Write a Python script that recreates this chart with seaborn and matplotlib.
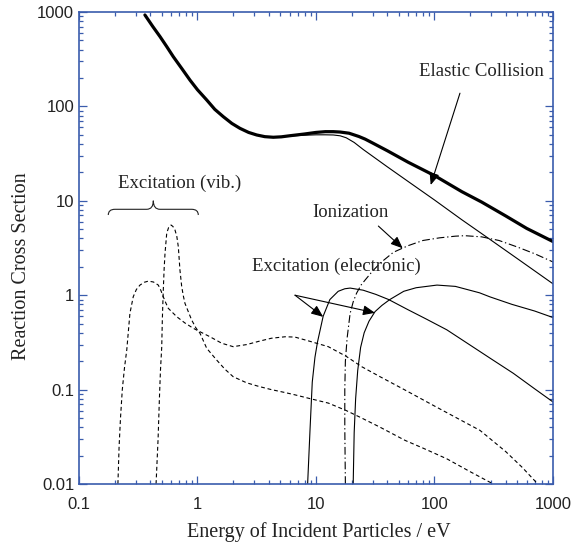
import pandas as pd
import matplotlib.pyplot as plt
from matplotlib.path import Path
from matplotlib.patches import PathPatch
import seaborn as sns

# --- data (energy in eV, cross section arb. units) ---
elastic_e = [0.36, 0.42, 0.483, 0.55, 0.625, 0.74, 0.864, 1.0, 1.196, 1.4, 1.651, 1.95,
             2.28, 2.7, 3.16, 3.7, 4.36, 5.1, 6.03, 8.0, 10, 12, 14, 16, 19, 23, 26, 30,
             40, 60, 100, 170, 250, 400, 600, 1000]
elastic_s = [930, 700, 548, 430, 336, 250, 190, 150, 117, 93, 77.8, 66,
             58.6, 53, 49.8, 47.8, 47.1, 47.6, 48.9, 51, 53, 54, 54, 53.5, 52, 48, 45, 41,
             33.9, 25.6, 18.5, 12.5, 9.7, 6.9, 5.1, 3.7]

momentum_e = [0.36, 0.42, 0.483, 0.55, 0.625, 0.74, 0.864, 1.0, 1.196, 1.4, 1.651, 1.95,
              2.28, 2.7, 3.16, 3.7, 4.36, 5.1, 6.03, 8.0, 10, 12, 14, 16, 18, 21, 25,
              40, 60, 100, 170, 300, 500, 1000]
momentum_s = [930, 700, 548, 430, 336, 250, 190, 150, 117, 93, 77.8, 66,
              58.6, 53, 49.8, 47.8, 47.1, 47.6, 48.6, 49.5, 50, 50, 49.8, 48.8, 46.5, 41.5, 35,
              22.9, 16.0, 10.2, 6.3, 3.83, 2.44, 1.32]

ion_e = [17.7, 17.5, 17.5, 17.7, 18.3, 19.4, 20.6, 22, 24, 26, 30, 35, 45, 60, 80,
         110, 150, 180, 250, 350, 500, 700, 1000]
ion_s = [0.01, 0.04, 0.1, 0.2, 0.35, 0.64, 0.85, 1.05, 1.28, 1.45, 1.8, 2.2, 2.85, 3.35, 3.8,
         4.05, 4.22, 4.27, 4.15, 3.8, 3.24, 2.75, 2.25]

elec1_e = [8.5, 8.9, 9.3, 9.8, 10.3, 11.5, 13.1, 15.4, 17.5, 19.4, 25, 32, 41, 60, 85,
           127, 200, 300, 462, 700, 1000]
elec1_s = [0.01, 0.037, 0.12, 0.22, 0.32, 0.6, 0.9, 1.1, 1.17, 1.19, 1.13, 1.02, 0.9, 0.7, 0.56,
           0.43, 0.296, 0.212, 0.149, 0.102, 0.074]

elec2_e = [20.6, 21.0, 21.6, 22.5, 23.8, 25.5, 28, 31.5, 36, 42, 55, 70, 105, 150, 240,
           294, 450, 700, 1000]
elec2_s = [0.01, 0.035, 0.08, 0.16, 0.28, 0.4, 0.53, 0.67, 0.78, 0.9, 1.1, 1.2, 1.28, 1.24, 1.06,
           0.96, 0.8, 0.68, 0.58]

vib1_e = [0.213, 0.218, 0.224, 0.232, 0.242, 0.253, 0.269, 0.287, 0.305, 0.327, 0.355,
          0.385, 0.425, 0.467, 0.49, 0.514, 0.54, 0.567, 0.668, 0.78, 0.922, 1.05, 1.275,
          1.6, 2.0, 2.6, 3.3, 4.2, 5.5, 6.65, 8.5, 12.7, 18, 24.3, 34.7, 56.4, 100, 150, 242,
          400, 550, 728, 740]
vib1_s = [0.01, 0.025, 0.05, 0.1, 0.17, 0.263, 0.643, 0.964, 1.15, 1.28, 1.37,
          1.41, 1.38, 1.28, 1.13, 0.964, 0.83, 0.726, 0.592, 0.51, 0.446, 0.41, 0.363,
          0.31, 0.285, 0.3, 0.325, 0.35, 0.363, 0.36, 0.33, 0.285, 0.225, 0.175, 0.137, 0.099,
          0.067, 0.051, 0.037, 0.022, 0.015, 0.0103, 0.01]

vib2_e = [0.447, 0.465, 0.477, 0.487, 0.499, 0.505, 0.514, 0.523, 0.532, 0.55, 0.57, 0.598,
          0.62, 0.646, 0.669, 0.689, 0.711, 0.736, 0.76, 0.784, 0.84, 0.893, 0.97, 1.05,
          1.196, 1.45, 1.7, 2.0, 2.6, 3.3, 4.2, 5.5, 6.65, 9, 12.7, 18, 24.3, 34.7, 56.4, 80,
          127, 200, 304, 310]
vib2_s = [0.01, 0.03, 0.08, 0.16, 0.28, 0.55, 1.1, 1.9, 2.78, 4.53, 5.2, 5.54,
          5.35, 4.9, 4.2, 3.26, 1.85, 1.23, 0.98, 0.82, 0.66, 0.546, 0.45, 0.395,
          0.274, 0.206, 0.165, 0.137, 0.118, 0.108, 0.1, 0.093, 0.088, 0.08, 0.072, 0.06, 0.05,
          0.04, 0.029, 0.024, 0.0185, 0.0135, 0.0102, 0.01]

x_ticks = [0.1, 1, 10, 100, 1000]
x_tick_labels = ['0.1', '1', '10', '100', '1000']
y_ticks = [0.01, 0.1, 1, 10, 100, 1000]
y_tick_labels = ['0.01', '0.1', '1', '10', '100', '1000']

SERIF = ['Liberation Serif', 'DejaVu Serif']
BLUE = '#3a5cad'
INK = '#222222'

sns.set_style("ticks")
plt.rcParams['font.family'] = ['Liberation Sans', 'DejaVu Sans']

fig = plt.figure(figsize=(5.77, 5.45), dpi=100)
ax = fig.add_axes([0.1369, 0.1119, 0.8215, 0.8661])

# (x, y, linewidth, linestyle)
curves = [
    (elastic_e, elastic_s, 2.3, '-'),
    (momentum_e, momentum_s, 0.8, '-'),
    (ion_e, ion_s, 0.8, (0, (7, 2.5, 1.2, 2.5))),
    (elec1_e, elec1_s, 0.8, '-'),
    (elec2_e, elec2_s, 0.8, '-'),
    (vib1_e, vib1_s, 0.8, (0, (3.5, 2.5))),
    (vib2_e, vib2_s, 0.8, (0, (3.5, 2.5))),
]
for xs, ys, lw, ls in curves:
    df = pd.DataFrame({'energy': xs, 'sigma': ys})
    sns.lineplot(data=df, x='energy', y='sigma', ax=ax, sort=False, estimator=None,
                 color='black', linewidth=lw, linestyle=ls)

ax.set_xscale('log')
ax.set_yscale('log')
ax.set_xlim(0.1, 1000)
ax.set_ylim(0.01, 1000)
ax.set_xticks(x_ticks)
ax.set_xticklabels(x_tick_labels)
ax.set_yticks(y_ticks)
ax.set_yticklabels(y_tick_labels)
ax.tick_params(which='both', direction='in', top=True, right=True, color=BLUE,
               width=0.9, labelsize=12, labelcolor=INK)
ax.tick_params(which='major', length=6)
ax.tick_params(which='minor', length=3)
ax.tick_params(axis='x', which='major', pad=9.5)
ax.tick_params(axis='y', which='major', pad=3.5)
for sp in ax.spines.values():
    sp.set_visible(True)
    sp.set_color(BLUE)
    sp.set_linewidth(1.2)

ax.set_xlabel('Energy of Incident Particles / eV', family=SERIF, fontsize=14.5, color=INK)
ax.set_ylabel('Reaction Cross Section', family=SERIF, fontsize=14.5, color=INK)
ax.xaxis.label.set_va('center')
ax.yaxis.label.set_va('center')
ax.xaxis.set_label_coords(0.505, -0.101)
ax.yaxis.set_label_coords(-0.121, 0.462)

# --- annotations ---
arrow = dict(arrowstyle='-|>,head_length=0.6,head_width=0.25', color='black', lw=0.8,
             mutation_scale=12, shrinkA=0, shrinkB=0)
txt = dict(family=SERIF, fontsize=13.5, color=INK, ha='center', va='center')

ax.text(250, 233, 'Elastic Collision', **txt)
ax.annotate('', xy=(92.9, 14.7), xytext=(164, 138), arrowprops=arrow)

ax.text(19.7, 7.55, 'Ionization', **txt)
ax.annotate('', xy=(53.9, 3.14), xytext=(33.6, 5.4), arrowprops=arrow)

ax.text(14.75, 2.0, 'Excitation (electronic)', **txt)
ax.annotate('', xy=(11.5, 0.59), xytext=(6.65, 1.0), arrowprops=arrow)
ax.annotate('', xy=(31.5, 0.65), xytext=(6.65, 1.0), arrowprops=arrow)

ax.text(0.711, 15.3, 'Excitation (vib.)', **txt)

# curly brace under the vib. label (axes fraction)
x0, x1, xm = 0.0618, 0.2517, 0.1568
y_end, y_h, y_tip = 0.5699, 0.582, 0.6002
dx = 0.014
verts = [(x0, y_end), (x0, y_h), (x0 + dx, y_h),
         (xm - dx, y_h), (xm, y_h), (xm, y_tip),
         (xm, y_h), (xm + dx, y_h),
         (x1 - dx, y_h), (x1, y_h), (x1, y_end)]
codes = [Path.MOVETO, Path.CURVE3, Path.CURVE3,
         Path.LINETO, Path.CURVE3, Path.CURVE3,
         Path.CURVE3, Path.CURVE3,
         Path.LINETO, Path.CURVE3, Path.CURVE3]
ax.add_patch(PathPatch(Path(verts, codes), transform=ax.transAxes, fill=False,
                       edgecolor=INK, lw=0.8))

plt.savefig('out.png', dpi=100)
plt.close()
